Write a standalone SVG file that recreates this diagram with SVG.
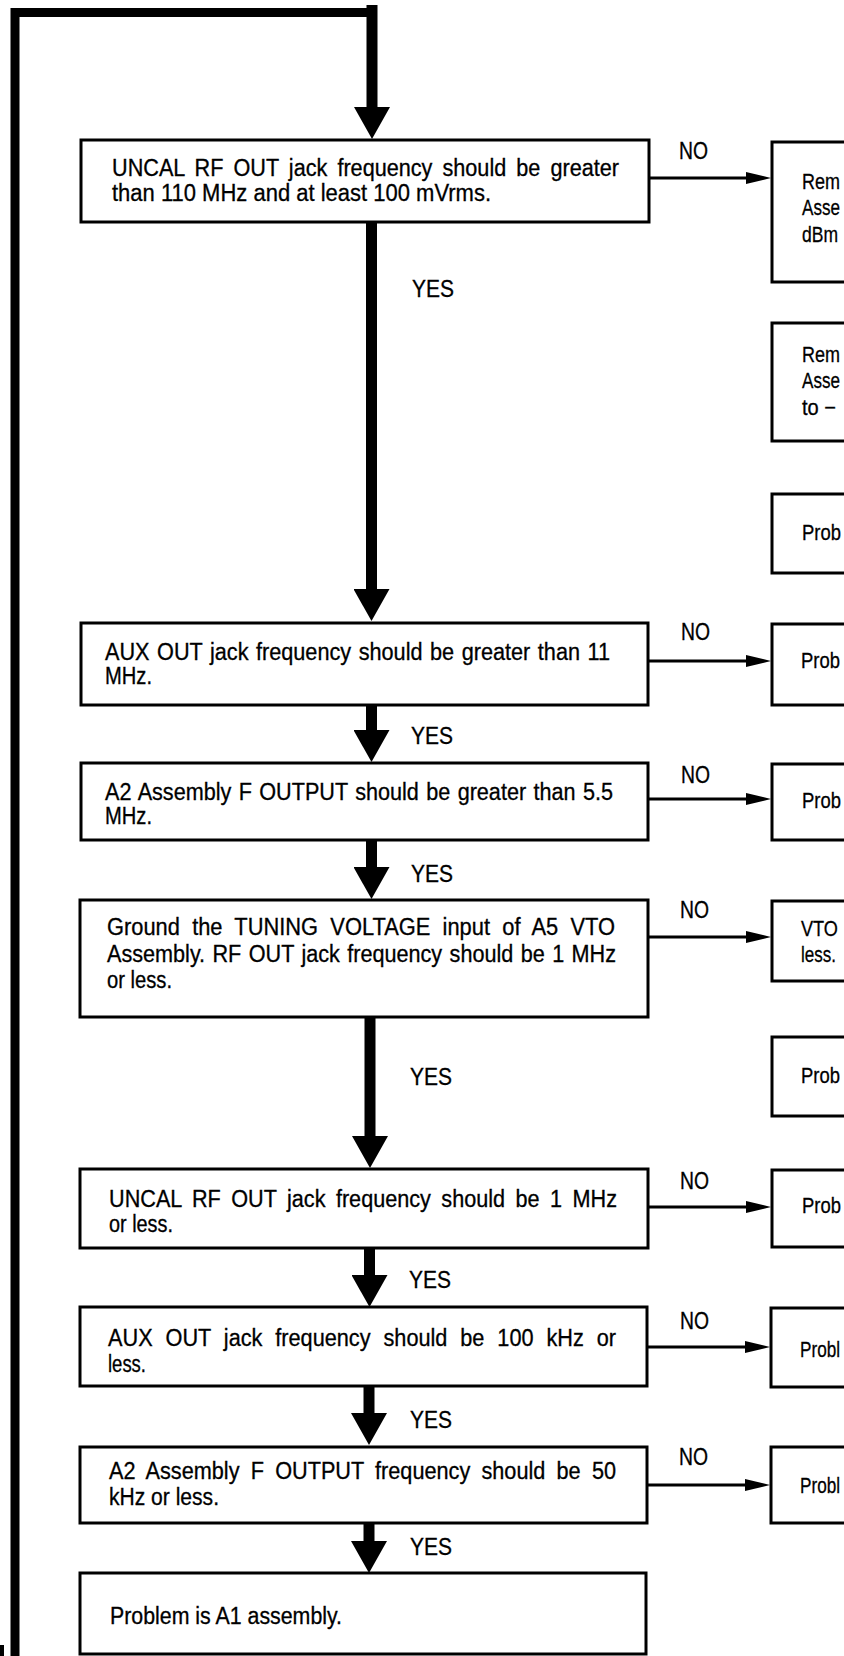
<svg xmlns="http://www.w3.org/2000/svg" width="844" height="1656" viewBox="0 0 844 1656">
<style>
.box{fill:#fff;stroke:#000;stroke-width:3}
.t{font-family:"Liberation Sans",Arial,sans-serif;font-size:23px;fill:#000;stroke:#000;stroke-width:0.3}
.r{font-size:22.5px}
.thin{stroke:#000;stroke-width:2.8;fill:none}
.thick{stroke:#000;stroke-width:11;fill:none}
.loop{stroke:#000;stroke-width:9;fill:none;stroke-linejoin:miter}
</style>
<defs>
<marker id="big" viewBox="0 0 32 36" refX="0" refY="18" markerWidth="32" markerHeight="36" markerUnits="userSpaceOnUse" orient="auto">
<path d="M0,0 L32,18 L0,36 z" fill="#000"/>
</marker>
<marker id="small" viewBox="0 0 25 12" refX="0" refY="6" markerWidth="25" markerHeight="12" markerUnits="userSpaceOnUse" orient="auto">
<path d="M0,0 L25,6 L0,12 z" fill="#000"/>
</marker>
</defs>
<rect width="844" height="1656" fill="#fff"/>

<g id="connectors">
<path class="loop" d="M15,1656 V12.5 H371.5"/>
<path class="thick" d="M372,5 V107" marker-end="url(#big)"/>
<path class="thick" d="M371.5,222 V589" marker-end="url(#big)"/>
<path class="thick" d="M371.5,705 V730" marker-end="url(#big)"/>
<path class="thick" d="M371.5,840 V867" marker-end="url(#big)"/>
<path class="thick" d="M370,1017 V1136" marker-end="url(#big)"/>
<path class="thick" d="M369.5,1248 V1275" marker-end="url(#big)"/>
<path class="thick" d="M369,1386 V1413" marker-end="url(#big)"/>
<path class="thick" d="M369,1523 V1541" marker-end="url(#big)"/>
<path class="thin" d="M649,178 H746" marker-end="url(#small)"/>
<path class="thin" d="M648,661 H746" marker-end="url(#small)"/>
<path class="thin" d="M648,799 H746" marker-end="url(#small)"/>
<path class="thin" d="M648,937 H746" marker-end="url(#small)"/>
<path class="thin" d="M648,1207 H746" marker-end="url(#small)"/>
<path class="thin" d="M647,1347 H745" marker-end="url(#small)"/>
<path class="thin" d="M647,1485 H745" marker-end="url(#small)"/>
<rect x="0" y="1645" width="4" height="11" fill="#000"/>
<g class="t">
<text x="412" y="297" textLength="42" lengthAdjust="spacingAndGlyphs">YES</text>
<text x="411" y="744" textLength="42" lengthAdjust="spacingAndGlyphs">YES</text>
<text x="411" y="882" textLength="42" lengthAdjust="spacingAndGlyphs">YES</text>
<text x="410" y="1085" textLength="42" lengthAdjust="spacingAndGlyphs">YES</text>
<text x="409" y="1288" textLength="42" lengthAdjust="spacingAndGlyphs">YES</text>
<text x="410" y="1428" textLength="42" lengthAdjust="spacingAndGlyphs">YES</text>
<text x="410" y="1555" textLength="42" lengthAdjust="spacingAndGlyphs">YES</text>
<text x="679" y="159" textLength="29" lengthAdjust="spacingAndGlyphs">NO</text>
<text x="681" y="640" textLength="29" lengthAdjust="spacingAndGlyphs">NO</text>
<text x="681" y="783" textLength="29" lengthAdjust="spacingAndGlyphs">NO</text>
<text x="680" y="918" textLength="29" lengthAdjust="spacingAndGlyphs">NO</text>
<text x="680" y="1189" textLength="29" lengthAdjust="spacingAndGlyphs">NO</text>
<text x="680" y="1329" textLength="29" lengthAdjust="spacingAndGlyphs">NO</text>
<text x="679" y="1465" textLength="29" lengthAdjust="spacingAndGlyphs">NO</text>
</g>
</g>

<g id="b1">
<rect class="box" x="81" y="140" width="568" height="82"/>
<text class="t" x="112" y="176" word-spacing="4.3" textLength="507" lengthAdjust="spacingAndGlyphs">UNCAL RF OUT jack frequency should be greater</text>
<text class="t" x="112" y="201" textLength="379" lengthAdjust="spacingAndGlyphs">than 110 MHz and at least 100 mVrms.</text>
</g>
<g id="b2">
<rect class="box" x="81" y="623" width="567" height="82"/>
<text class="t" x="105" y="660" word-spacing="1.6" textLength="505" lengthAdjust="spacingAndGlyphs">AUX OUT jack frequency should be greater than 11</text>
<text class="t" x="105" y="684" textLength="47" lengthAdjust="spacingAndGlyphs">MHz.</text>
</g>
<g id="b3">
<rect class="box" x="81" y="763" width="567" height="77"/>
<text class="t" x="105" y="800" word-spacing="1.5" textLength="508" lengthAdjust="spacingAndGlyphs">A2 Assembly F OUTPUT should be greater than 5.5</text>
<text class="t" x="105" y="824" textLength="47" lengthAdjust="spacingAndGlyphs">MHz.</text>
</g>
<g id="b4">
<rect class="box" x="80" y="900" width="568" height="117"/>
<text class="t" x="107" y="935" word-spacing="6.5" textLength="508" lengthAdjust="spacingAndGlyphs">Ground the TUNING VOLTAGE input of A5 VTO</text>
<text class="t" x="107" y="962" word-spacing="1.5" textLength="509" lengthAdjust="spacingAndGlyphs">Assembly. RF OUT jack frequency should be 1 MHz</text>
<text class="t" x="107" y="988" textLength="65" lengthAdjust="spacingAndGlyphs">or less.</text>
</g>
<g id="b5">
<rect class="box" x="80" y="1169" width="568" height="79"/>
<text class="t" x="109" y="1207" word-spacing="4.7" textLength="508" lengthAdjust="spacingAndGlyphs">UNCAL RF OUT jack frequency should be 1 MHz</text>
<text class="t" x="109" y="1232" textLength="64" lengthAdjust="spacingAndGlyphs">or less.</text>
</g>
<g id="b6">
<rect class="box" x="80" y="1307" width="567" height="79"/>
<text class="t" x="108" y="1346" word-spacing="7.3" textLength="508" lengthAdjust="spacingAndGlyphs">AUX OUT jack frequency should be 100 kHz or</text>
<text class="t" x="108" y="1372" textLength="38" lengthAdjust="spacingAndGlyphs">less.</text>
</g>
<g id="b7">
<rect class="box" x="80" y="1447" width="567" height="76"/>
<text class="t" x="109" y="1479" word-spacing="5.5" textLength="507" lengthAdjust="spacingAndGlyphs">A2 Assembly F OUTPUT frequency should be 50</text>
<text class="t" x="109" y="1505" textLength="110" lengthAdjust="spacingAndGlyphs">kHz or less.</text>
</g>
<g id="b8">
<rect class="box" x="80" y="1573" width="566" height="81"/>
<text class="t" x="110" y="1624" textLength="232" lengthAdjust="spacingAndGlyphs">Problem is A1 assembly.</text>
</g>

<g id="r1">
<rect class="box" x="772" y="142" width="120" height="140"/>
<text class="t r" x="802" y="189" textLength="38" lengthAdjust="spacingAndGlyphs">Rem</text>
<text class="t r" x="802" y="215" textLength="38" lengthAdjust="spacingAndGlyphs">Asse</text>
<text class="t r" x="802" y="242" textLength="36" lengthAdjust="spacingAndGlyphs">dBm</text>
</g>
<g id="r2">
<rect class="box" x="772" y="323" width="120" height="118"/>
<text class="t r" x="802" y="362" textLength="38" lengthAdjust="spacingAndGlyphs">Rem</text>
<text class="t r" x="802" y="388" textLength="38" lengthAdjust="spacingAndGlyphs">Asse</text>
<text class="t r" x="802" y="415" textLength="34" lengthAdjust="spacingAndGlyphs">to −</text>
</g>
<g id="r3">
<rect class="box" x="772" y="494" width="120" height="79"/>
<text class="t r" x="802" y="540" textLength="39" lengthAdjust="spacingAndGlyphs">Prob</text>
</g>
<g id="r4">
<rect class="box" x="772" y="624" width="120" height="81"/>
<text class="t r" x="801" y="668" textLength="39" lengthAdjust="spacingAndGlyphs">Prob</text>
</g>
<g id="r5">
<rect class="box" x="772" y="764" width="120" height="76"/>
<text class="t r" x="802" y="808" textLength="39" lengthAdjust="spacingAndGlyphs">Prob</text>
</g>
<g id="r6">
<rect class="box" x="772" y="901" width="120" height="80"/>
<text class="t r" x="801" y="936" textLength="37" lengthAdjust="spacingAndGlyphs">VTO</text>
<text class="t r" x="801" y="962" textLength="35" lengthAdjust="spacingAndGlyphs">less.</text>
</g>
<g id="r7">
<rect class="box" x="772" y="1037" width="120" height="79"/>
<text class="t r" x="801" y="1083" textLength="39" lengthAdjust="spacingAndGlyphs">Prob</text>
</g>
<g id="r8">
<rect class="box" x="772" y="1170" width="120" height="77"/>
<text class="t r" x="802" y="1213" textLength="39" lengthAdjust="spacingAndGlyphs">Prob</text>
</g>
<g id="r9">
<rect class="box" x="771" y="1308" width="120" height="79"/>
<text class="t r" x="800" y="1357" textLength="40" lengthAdjust="spacingAndGlyphs">Probl</text>
</g>
<g id="r10">
<rect class="box" x="771" y="1447" width="120" height="76"/>
<text class="t r" x="800" y="1493" textLength="40" lengthAdjust="spacingAndGlyphs">Probl</text>
</g>
</svg>
